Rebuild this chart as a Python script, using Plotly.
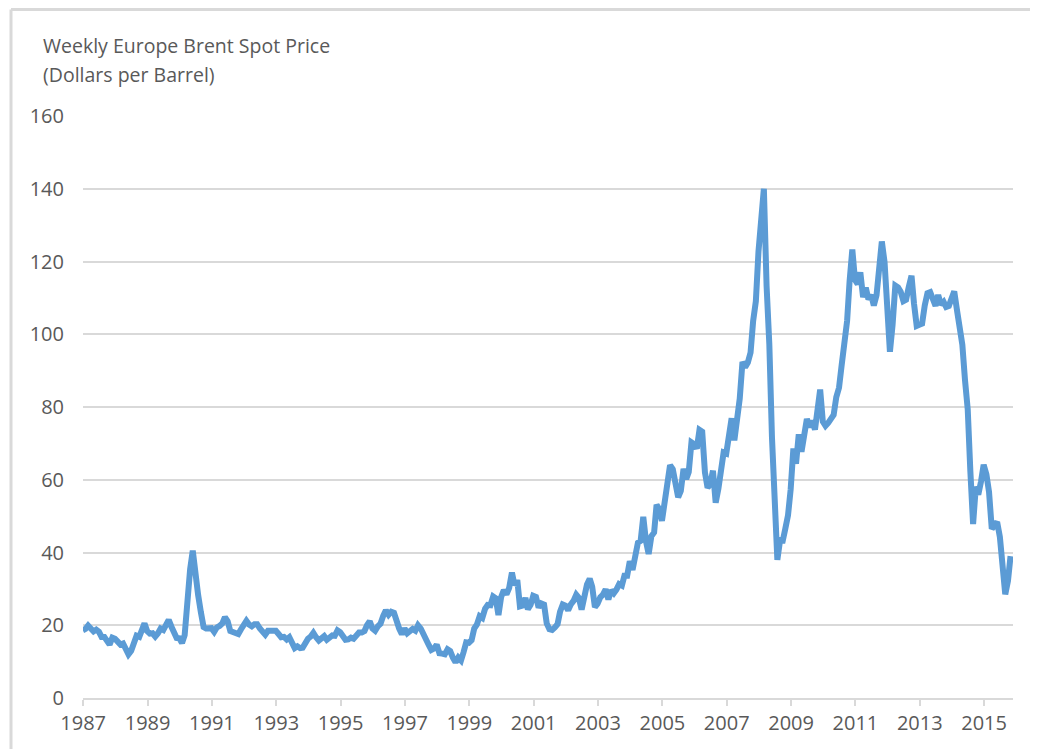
import pandas as pd
import plotly.graph_objects as go

# ----------------------------
# Data (monthly readings, May 1987 - Mar 2016)
# ----------------------------

START_MONTH = "1987-05-01"

prices = [
    # 1987 (May-Dec)
    18.6, 19.0, 19.9, 19.0, 18.3, 18.8, 18.2, 16.8,
    # 1988
    16.8, 15.7, 14.7, 16.6, 16.3, 15.5, 14.7, 15.0, 13.4, 12.0, 13.0, 15.7,
    # 1989
    17.1, 16.8, 18.7, 20.5, 18.4, 17.7, 17.8, 16.9, 17.8, 19.1, 18.7, 19.8,
    # 1990
    21.5, 19.6, 18.4, 16.5, 16.4, 15.1, 17.3, 27.5, 35.4, 40.5, 33.1, 28.3,
    # 1991
    23.6, 19.5, 19.1, 19.2, 19.2, 18.2, 19.4, 19.8, 20.5, 22.2, 21.1, 18.4,
    # 1992
    18.2, 18.1, 17.6, 18.9, 19.9, 21.2, 20.2, 19.7, 20.3, 20.3, 19.1, 18.2,
    # 1993
    17.4, 18.5, 18.6, 18.6, 18.5, 17.6, 16.7, 16.8, 16.1, 16.7, 15.3, 13.7,
    # 1994
    14.2, 13.7, 13.8, 15.2, 16.3, 16.9, 17.9, 16.7, 15.8, 16.4, 17.0, 16.0,
    # 1995
    16.6, 17.2, 17.1, 18.6, 18.1, 17.2, 16.0, 16.1, 16.6, 16.3, 17.1, 18.0,
    # 1996
    18.0, 18.4, 20.0, 21.1, 19.1, 18.5, 19.7, 20.4, 22.6, 24.1, 22.9, 23.7,
    # 1997
    23.4, 20.7, 19.1, 17.5, 19.1, 17.8, 18.7, 19.0, 18.5, 20.0, 19.1, 17.3,
    # 1998
    15.5, 14.5, 13.2, 13.6, 14.7, 12.3, 12.2, 12.0, 13.4, 12.9, 11.1, 9.8,
    # 1999
    11.1, 10.3, 12.5, 15.3, 15.2, 15.9, 19.1, 20.2, 22.5, 22.0, 24.5, 25.6,
    # 2000
    25.5, 27.9, 27.4, 22.8, 27.7, 29.7, 28.5, 30.3, 34.5, 31.0, 32.4, 25.2,
    # 2001
    25.4, 27.5, 24.4, 25.6, 28.1, 27.8, 24.9, 26.0, 25.7, 20.5, 18.9, 18.7,
    # 2002
    19.4, 20.3, 23.7, 25.7, 25.4, 24.1, 25.7, 26.7, 28.4, 27.5, 24.3, 28.3,
    # 2003
    31.2, 32.8, 30.6, 25.0, 25.9, 27.7, 28.4, 29.9, 27.1, 29.6, 28.8, 29.8,
    # 2004
    31.3, 30.9, 33.6, 33.6, 37.6, 35.2, 38.2, 42.7, 43.2, 49.8, 43.1, 39.6,
    # 2005
    44.5, 45.5, 53.1, 51.9, 48.7, 54.4, 57.5, 64.0, 62.9, 58.5, 55.2, 56.9,
    # 2006
    63.0, 60.2, 62.1, 70.3, 69.8, 68.6, 73.7, 73.2, 62.0, 57.8, 58.8, 62.5,
    # 2007
    53.7, 57.6, 62.1, 67.5, 67.2, 71.1, 76.9, 70.8, 77.2, 82.3, 92.4, 90.9,
    # 2008
    92.2, 95.0, 103.6, 109.1, 122.8, 132.3, 140.0, 113.2, 97.2, 71.6, 52.5, 38.0,
    # 2009
    43.4, 43.3, 46.5, 50.2, 57.3, 68.6, 64.4, 72.5, 67.7, 72.8, 76.7, 74.5,
    # 2010
    76.2, 73.8, 78.8, 84.8, 76.0, 74.8, 75.6, 77.0, 77.8, 82.7, 85.3, 91.5,
    # 2011
    96.5, 103.7, 114.6, 123.3, 115.0, 113.8, 117.0, 110.2, 112.8, 109.6, 110.8, 107.9,
    # 2012
    110.7, 119.3, 125.5, 119.8, 110.3, 95.2, 102.6, 113.4, 112.9, 111.7, 109.1, 109.5,
    # 2013
    113.0, 116.1, 108.5, 102.3, 102.6, 102.9, 107.9, 111.3, 111.6, 109.1, 107.8, 110.8,
    # 2014
    108.1, 108.9, 107.5, 107.8, 109.5, 111.8, 106.8, 101.6, 97.1, 87.4, 79.4, 62.3,
    # 2015
    47.8, 58.1, 55.9, 59.5, 64.1, 61.5, 56.6, 46.5, 47.6, 48.4, 44.3, 38.0,
    # 2016 (Jan-Mar)
    28.5, 32.2, 39.0,
]

tick_years = [str(y) for y in range(1987, 2016, 2)]
tick_dates = [f"{y}-05-20" for y in tick_years]

y_ticks = [0, 20, 40, 60, 80, 100, 120, 140, 160]

title_lines = ["Weekly Europe Brent Spot Price", "(Dollars per Barrel)"]

dates = pd.date_range(START_MONTH, periods=len(prices), freq="MS") + pd.Timedelta(days=14)

TEXT = "#595959"
GRID = "#d9d9d9"
FONT = "'Open Sans', sans-serif"

# figure size and plot area in figure pixels (page body adds 8px offset)
W, H = 1030, 741
L, T, R, B = 75, 108, 1005, 690
PW, PH = R - L, B - T

# ----------------------------
# Line
# ----------------------------

fig = go.Figure()

fig.add_trace(
    go.Scatter(
        x=dates,
        y=prices,
        mode="lines",
        line=dict(color="#5b9bd5", width=6),
        name="Brent",
    )
)

# ----------------------------
# Layout
# ----------------------------

fig.update_layout(
    width=W,
    height=H,
    margin=dict(l=L, r=W - R, t=T, b=H - B),
    paper_bgcolor="white",
    plot_bgcolor="white",
    showlegend=False,
    font=dict(family=FONT, size=20, color=TEXT),
    xaxis=dict(
        type="date",
        range=["1987-05-18", "2016-04-12"],
        tickmode="array",
        tickvals=tick_dates,
        ticktext=tick_years,
        showgrid=False,
        showline=True,
        linecolor=GRID,
        linewidth=2,
        ticks="outside",
        ticklen=6,
        tickwidth=2,
        tickcolor=GRID,
        zeroline=False,
        tickfont=dict(size=20, color=TEXT),
    ),
    yaxis=dict(
        range=[0, 160],
        tickmode="array",
        tickvals=y_ticks,
        showgrid=True,
        gridcolor=GRID,
        gridwidth=2,
        zeroline=False,
        showline=False,
        ticks="",
        ticklabelstandoff=18,
        tickfont=dict(size=20, color=TEXT),
    ),
    annotations=[
        dict(
            text=line,
            xref="paper",
            yref="paper",
            x=(33 - L) / PW,
            y=(B - (22 + i * 28.6)) / PH,
            xanchor="left",
            yanchor="top",
            align="left",
            showarrow=False,
            font=dict(family=FONT, size=19.5, color=TEXT),
        )
        for i, line in enumerate(title_lines)
    ],
    shapes=[
        # chart border (left and top visible)
        dict(
            type="line",
            xref="paper",
            yref="paper",
            x0=(3 - L) / PW,
            x1=(3 - L) / PW,
            y0=-0.3,
            y1=(B - 1.5) / PH,
            line=dict(color=GRID, width=3),
        ),
        dict(
            type="line",
            xref="paper",
            yref="paper",
            x0=(3 - L) / PW,
            x1=(W - L) / PW,
            y0=(B - 1.5) / PH,
            y1=(B - 1.5) / PH,
            line=dict(color=GRID, width=3),
        ),
    ],
)

fig.write_html("out.html")
